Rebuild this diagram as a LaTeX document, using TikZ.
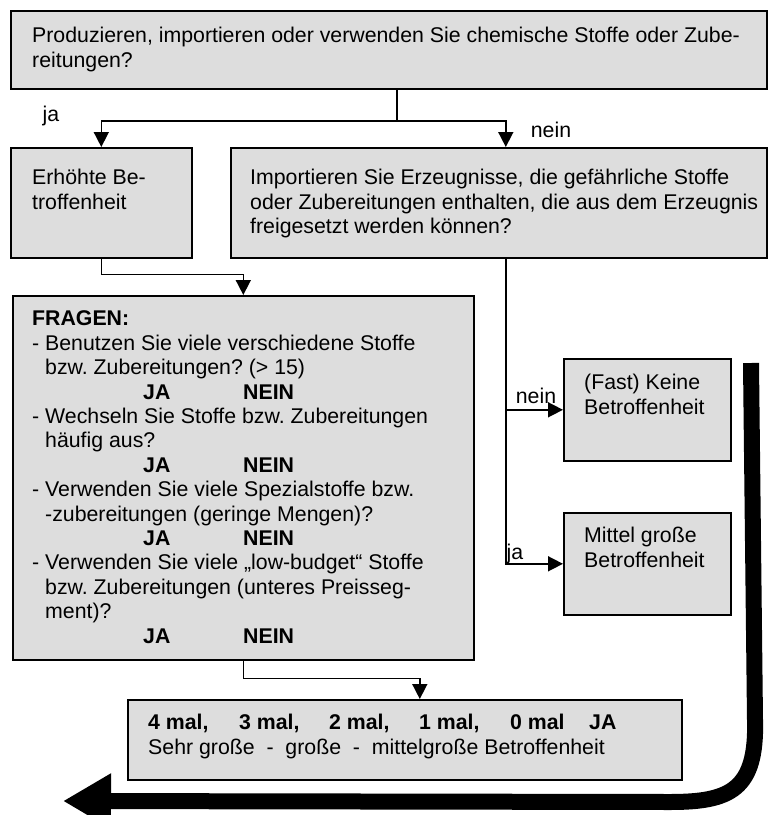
\documentclass[tikz,border=0pt]{standalone}
\usepackage{fontspec}
\setmainfont{Liberation Sans}
\usetikzlibrary{arrows.meta}
\definecolor{boxgray}{RGB}{221,221,221}
\frenchspacing
\tikzset{
  box/.style={draw=black, line width=1.6pt, fill=boxgray, anchor=north west, inner sep=0pt},
  txt/.style={anchor=north west, inner sep=0pt, align=left, font=\fontsize{21.3}{24.4}\selectfont},
  lbl/.style={anchor=base, inner sep=0pt, font=\fontsize{21.3}{24.4}\selectfont},
  conn/.style={draw=black, line width=1.6pt},
  arr/.style={conn, -{Triangle[length=15pt,width=15pt]}},
  bigarr/.style={draw=black, line width=16pt, -{Triangle[length=48pt,width=52pt]}}
}
\newcommand{\jaNein}{\hspace*{111pt}\makebox[100pt][l]{\textbf{JA}}\textbf{NEIN}}
\begin{document}
\begin{tikzpicture}[x=1pt,y=-1pt]
\useasboundingbox (0,0) rectangle (768,815);

% boxes
\node[box, minimum width=756pt, minimum height=78pt] (top) at (10,10) {};
\node[box, minimum width=181pt, minimum height=110pt] (erh) at (10,147) {};
\node[box, minimum width=536pt, minimum height=110pt] (imp) at (230,147) {};
\node[box, minimum width=461pt, minimum height=364pt] (fragen) at (12,295) {};
\node[box, minimum width=167pt, minimum height=102pt] (fast) at (563,358) {};
\node[box, minimum width=167pt, minimum height=102pt] (mittel) at (563,512) {};
\node[box, minimum width=554pt, minimum height=80pt] (result) at (127,699) {};

% texts
\node[txt] (toptxt) at (32,25.6) {\rule{0pt}{17pt}Produzieren, importieren oder verwenden Sie chemische Stoffe oder Zube-\\reitungen?};
\node[txt] (erhtxt) at (32,167.6) {\rule{0pt}{17pt}Erhöhte Be-\\troffenheit};
\node[txt] (imptxt) at (250,167.6) {\rule{0pt}{17pt}Importieren Sie Erzeugnisse, die gefährliche Stoffe\\oder Zubereitungen enthalten, die aus dem Erzeugnis\\freigesetzt werden können?};
\node[txt] (fragentxt) at (32,308.6) {\rule{0pt}{17pt}\textbf{FRAGEN:}\\
- Benutzen Sie viele verschiedene Stoffe\\
\hspace*{13pt}bzw. Zubereitungen? (> 15)\\
\jaNein\\
- Wechseln Sie Stoffe bzw. Zubereitungen\\
\hspace*{13pt}häufig aus?\\
\jaNein\\
- Verwenden Sie viele Spezialstoffe bzw.\\
\hspace*{13pt}-zubereitungen (geringe Mengen)?\\
\jaNein\\
- Verwenden Sie viele „low-budget“ Stoffe\\
\hspace*{13pt}bzw. Zubereitungen (unteres Preisseg-\\
\hspace*{13pt}ment)?\\
\jaNein};
\node[txt] (fasttxt) at (584,372.6) {\rule{0pt}{17pt}(Fast) Keine\\Betroffenheit};
\node[txt] (mitteltxt) at (584,525.6) {\rule{0pt}{17pt}Mittel große\\Betroffenheit};
\node[txt] (resulttxt) at (148,712.6) {\rule{0pt}{17pt}\textbf{\makebox[91pt][l]{4 mal,}\makebox[90pt][l]{3 mal,}\makebox[90pt][l]{2 mal,}\makebox[91pt][l]{1 mal,}\makebox[79pt][l]{0 mal}JA}\\Sehr große\ \ -\ \ große\ \ -\ \ mittelgroße Betroffenheit};

% labels
\node[lbl] (ja1) at (51,121) {ja};
\node[lbl] (nein1) at (551,137) {nein};
\node[lbl] (nein2) at (536,403) {nein};
\node[lbl] (ja2) at (515,559) {ja};

% connectors
\coordinate (split) at (397,121);
\draw[conn] (top.south -| split) -- (split);
\draw[arr] (split) -| (erh.north);
\draw[arr] (split) -| ([xshift=7pt]imp.north);
\draw[arr] (erh.south) -- ++(0,16) -| (fragen.north);
\draw[arr] ([xshift=7pt]imp.south) |- (fast.west);
\draw[arr] ([xshift=7pt]imp.south) |- (mittel.west);
\draw[arr] (fragen.south) -- ++(0,18) -| ([xshift=15pt]result.north);

% big arrow
\coordinate (bigstart) at (751,363);
\coordinate (bigend) at (63,801);
\draw[bigarr] (bigstart) -- (755,720) .. controls (757,790) and (730,802) .. (670,802) -- (bigend);
\end{tikzpicture}
\end{document}
